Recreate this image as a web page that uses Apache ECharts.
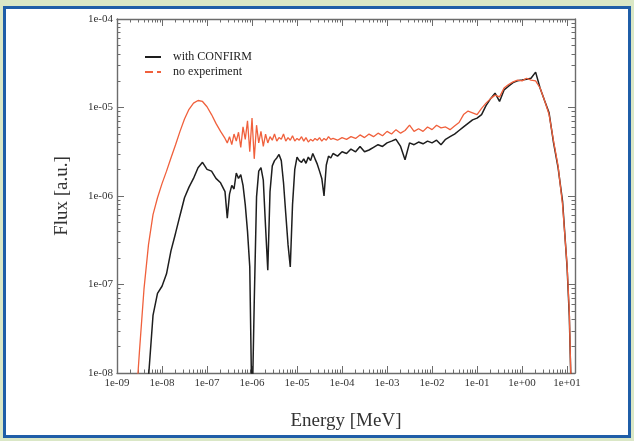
<!DOCTYPE html>
<html><head><meta charset="utf-8">
<script src="https://cdn.jsdelivr.net/npm/echarts@6/dist/echarts.min.js"></script>
<style>
html,body{margin:0;padding:0;width:634px;height:441px;background:#dae7c6;overflow:hidden}
#frame{position:absolute;left:3px;top:6px;width:628px;height:432px;box-sizing:border-box;border:3px solid #1f5ea8;background:#fff}
#chart{position:absolute;left:0;top:0;width:634px;height:441px}
</style></head><body>
<div id="frame"></div><div id="chart"></div>
<script>
// Energy bins [MeV]
const energy = [
  2.51e-9,3.16e-9,3.98e-9,5.01e-9,6.31e-9,7.94e-9,1e-8,1.26e-8,1.58e-8,2.0e-8,2.51e-8,3.16e-8,3.98e-8,5.01e-8,6.31e-8,7.94e-8,1e-7,1.26e-7,1.58e-7,2.0e-7,2.51e-7,
  2.82e-7,3.16e-7,3.55e-7,3.98e-7,4.47e-7,5.01e-7,5.62e-7,6.31e-7,7.08e-7,7.94e-7,8.91e-7,
  1e-6,1.12e-6,1.26e-6,1.41e-6,1.58e-6,1.78e-6,2.0e-6,2.24e-6,2.51e-6,2.82e-6,3.16e-6,3.55e-6,3.98e-6,4.47e-6,5.01e-6,5.62e-6,6.31e-6,7.08e-6,7.94e-6,8.91e-6,
  1e-5,1.12e-5,1.26e-5,1.41e-5,1.58e-5,1.78e-5,2.0e-5,2.24e-5,2.51e-5,2.82e-5,3.16e-5,3.55e-5,3.98e-5,4.47e-5,5.01e-5,5.62e-5,
  6.31e-5,7.94e-5,
  1e-4,1.26e-4,1.58e-4,2.0e-4,2.51e-4,3.16e-4,3.98e-4,5.01e-4,6.31e-4,7.94e-4,
  1e-3,1.26e-3,1.58e-3,2.0e-3,2.51e-3,3.16e-3,3.98e-3,5.01e-3,6.31e-3,7.94e-3,
  1e-2,1.26e-2,1.58e-2,2.0e-2,2.51e-2,3.16e-2,3.98e-2,5.01e-2,6.31e-2,7.94e-2,
  0.1,0.126,0.158,0.2,0.251,0.316,0.398,0.501,0.631,0.794,
  1.0,1.26,1.58,2.0,2.51,3.16,3.98,5.01,6.31,7.94,
  10.0,11.2,12.6
];
// Flux with CONFIRM (black)
const fluxConfirm = [
  1e-9,1e-9,2.51e-9,8.91e-9,4.47e-8,7.94e-8,9.55e-8,1.32e-7,2.40e-7,3.80e-7,6.03e-7,9.55e-7,1.26e-6,1.58e-6,2.09e-6,2.40e-6,2.00e-6,1.91e-6,1.58e-6,1.41e-6,1.12e-6,
  5.62e-7,1.05e-6,1.32e-6,1.20e-6,1.82e-6,1.58e-6,1.74e-6,1.32e-6,7.94e-7,3.98e-7,1.58e-7,
  3.16e-9,6.31e-8,9.77e-7,1.91e-6,2.09e-6,1.51e-6,4.47e-7,1.45e-7,1.12e-6,2.19e-6,
  2.51e-6,2.69e-6,2.95e-6,2.51e-6,1.41e-6,6.31e-7,2.82e-7,1.58e-7,7.94e-7,2.00e-6,
  2.75e-6,2.51e-6,2.40e-6,2.63e-6,2.34e-6,2.75e-6,2.51e-6,3.02e-6,2.63e-6,2.29e-6,
  1.91e-6,1.58e-6,1.0e-6,2.24e-6,2.82e-6,2.69e-6,
  3.02e-6,2.82e-6,
  3.16e-6,3.02e-6,3.39e-6,3.16e-6,3.63e-6,3.16e-6,3.31e-6,3.55e-6,3.80e-6,3.63e-6,
  3.98e-6,4.17e-6,4.37e-6,3.63e-6,2.57e-6,3.98e-6,3.80e-6,4.07e-6,3.89e-6,4.17e-6,
  3.98e-6,4.27e-6,3.80e-6,4.37e-6,4.68e-6,5.01e-6,5.50e-6,6.03e-6,6.61e-6,7.24e-6,
  7.59e-6,8.32e-6,1.05e-5,1.26e-5,1.45e-5,1.17e-5,1.58e-5,1.74e-5,1.91e-5,2.00e-5,
  2.04e-5,2.09e-5,2.14e-5,2.51e-5,1.66e-5,1.20e-5,8.71e-6,3.98e-6,2.09e-6,8.71e-7,
  1.58e-7,4.47e-8,3.98e-9
];
// Flux with no experiment (red)
const fluxNoExp = [
  3.16e-9,1.78e-8,8.91e-8,2.82e-7,6.17e-7,9.55e-7,1.38e-6,1.91e-6,2.69e-6,3.80e-6,5.37e-6,7.41e-6,9.55e-6,1.12e-5,1.20e-5,1.17e-5,1.02e-5,8.32e-6,6.61e-6,5.37e-6,4.47e-6,
  3.98e-6,4.68e-6,3.80e-6,5.01e-6,4.17e-6,5.25e-6,3.55e-6,6.03e-6,4.37e-6,7.08e-6,3.16e-6,
  7.59e-6,2.63e-6,6.31e-6,3.98e-6,5.37e-6,3.63e-6,5.01e-6,3.98e-6,4.68e-6,4.27e-6,
  5.01e-6,4.17e-6,4.57e-6,4.37e-6,5.01e-6,4.17e-6,4.57e-6,4.27e-6,4.79e-6,4.17e-6,
  4.47e-6,4.27e-6,4.68e-6,4.17e-6,4.57e-6,4.07e-6,4.37e-6,4.17e-6,4.47e-6,4.27e-6,
  4.57e-6,4.17e-6,4.47e-6,4.27e-6,4.68e-6,4.37e-6,
  4.47e-6,4.27e-6,
  4.57e-6,4.37e-6,4.68e-6,4.47e-6,4.90e-6,4.57e-6,5.01e-6,4.68e-6,5.13e-6,4.79e-6,
  5.37e-6,5.01e-6,5.62e-6,5.13e-6,5.50e-6,6.31e-6,5.37e-6,5.75e-6,5.37e-6,6.03e-6,
  5.62e-6,6.31e-6,5.89e-6,6.03e-6,5.62e-6,6.17e-6,6.76e-6,8.32e-6,9.12e-6,8.71e-6,
  8.32e-6,9.77e-6,1.12e-5,1.26e-5,1.38e-5,1.32e-5,1.66e-5,1.82e-5,1.95e-5,2.04e-5,
  2.00e-5,2.14e-5,2.04e-5,2.00e-5,1.66e-5,1.20e-5,8.32e-6,4.17e-6,2.19e-6,7.94e-7,
  1.66e-7,5.01e-8,3.98e-9
];
const seriesNames = ['with CONFIRM', 'no experiment'];
const xTicks = [1e-9,1e-8,1e-7,1e-6,1e-5,1e-4,1e-3,1e-2,1e-1,1,10];
const xTickLabels = ['1e-09','1e-08','1e-07','1e-06','1e-05','1e-04','1e-03','1e-02','1e-01','1e+00','1e+01'];
const yTicks = [1e-8,1e-7,1e-6,1e-5,1e-4];
const yTickLabels = ['1e-08','1e-07','1e-06','1e-05','1e-04'];
const X_MIN = 1e-9, X_MAX = 15, Y_MIN = 1e-8, Y_MAX = 1e-4;

const L = Math.log10;
const lx = [L(X_MIN), L(X_MAX)], ly = [L(Y_MIN), L(Y_MAX)];
const xMajor = xTicks.map(L), yMajor = yTicks.map(L);
function minors(a, b) {
  const out = [];
  for (let d = Math.floor(a); d < b; d++) for (let k = 2; k < 10; k++) {
    const v = d + L(k); if (v > a + 1e-9 && v < b - 1e-9) out.push(v);
  }
  return out;
}
const xMinor = minors(lx[0], lx[1]), yMinor = minors(ly[0], ly[1]);
const FONT = '"Liberation Serif","DejaVu Serif",serif';
const AX = { color: '#6c6c6c', width: 1.4 };
function labelFor(vals, labels) {
  return v => { for (let i = 0; i < vals.length; i++) if (Math.abs(L(vals[i]) - v) < 1e-6) return labels[i]; return ''; };
}
function deco(range, pos, ticks, len, line, label, extra) {
  return Object.assign({
    type: 'value', min: range[0], max: range[1], position: pos, gridIndex: 0,
    axisLine: { show: line, onZero: false, lineStyle: AX },
    axisTick: { show: true, inside: true, length: len, customValues: ticks, lineStyle: { color: AX.color, width: 1 } },
    axisLabel: label ? label : { show: false },
    splitLine: { show: false }, minorTick: { show: false }
  }, extra || {});
}
const labelStyle = { fontFamily: FONT, fontSize: 11, color: '#333' };

const chart = echarts.init(document.getElementById('chart'), null, { renderer: 'canvas' });
chart.setOption({
  backgroundColor: 'transparent',
  animation: false,
  grid: { left: 117, top: 19, right: 59, bottom: 68, containLabel: false },
  legend: {
    left: 139, top: 46, orient: 'vertical', itemWidth: 16, itemHeight: 10, itemGap: 3,
    itemStyle: { opacity: 0 },
    textStyle: { fontFamily: FONT, fontSize: 12, color: '#222', padding: [0, 0, 0, 7] },
    data: [
      { name: seriesNames[0] },
      { name: seriesNames[1], lineStyle: { type: 'dashed' } }
    ]
  },
  xAxis: [
    { type: 'log', logBase: 10, min: X_MIN, max: X_MAX, show: false },
    deco(lx, 'bottom', xMajor, 7, true,
      Object.assign({ show: true, customValues: xMajor, margin: 5, formatter: labelFor(xTicks, xTickLabels) }, labelStyle),
      { name: 'Energy [MeV]', nameLocation: 'middle', nameGap: 39,
        nameTextStyle: { fontFamily: FONT, fontSize: 19, color: '#333' } }),
    deco(lx, 'bottom', xMinor, 3.5, false, null),
    deco(lx, 'top', xMajor, 7, true, null),
    deco(lx, 'top', xMinor, 3.5, false, null)
  ],
  yAxis: [
    { type: 'log', logBase: 10, min: Y_MIN, max: Y_MAX, show: false },
    deco(ly, 'left', yMajor, 7, true,
      Object.assign({ show: true, customValues: yMajor, margin: 4, formatter: labelFor(yTicks, yTickLabels) }, labelStyle),
      { name: 'Flux [a.u.]', nameLocation: 'middle', nameGap: 45,
        nameTextStyle: { fontFamily: FONT, fontSize: 19, color: '#333' } }),
    deco(ly, 'left', yMinor, 3.5, false, null),
    deco(ly, 'right', yMajor, 7, true, null),
    deco(ly, 'right', yMinor, 3.5, false, null)
  ],
  series: [
    { name: seriesNames[0], type: 'line', xAxisIndex: 0, yAxisIndex: 0, symbol: 'none',
      lineStyle: { color: '#1e1e1e', width: 1.5 }, itemStyle: { color: '#1e1e1e' },
      data: energy.map((e, i) => [e, fluxConfirm[i]]) },
    { name: seriesNames[1], type: 'line', xAxisIndex: 0, yAxisIndex: 0, symbol: 'none',
      lineStyle: { color: '#f0603c', width: 1.3 }, itemStyle: { color: '#f0603c' },
      data: energy.map((e, i) => [e, fluxNoExp[i]]) }
  ]
});
</script>
</body></html>
